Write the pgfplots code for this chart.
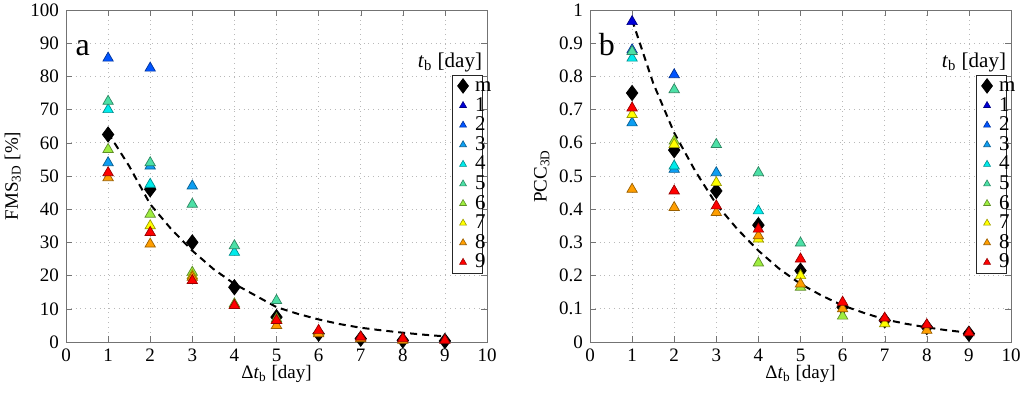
\documentclass[border=0pt]{standalone}
\usepackage{fontspec}
\setmainfont{Liberation Serif}
\usepackage{pgfplots}
\pgfplotsset{compat=1.18}
\definecolor{c1}{rgb}{0,0,0.85}
\definecolor{c2}{rgb}{0,0.33,1}
\definecolor{c3}{rgb}{0.05,0.62,0.95}
\definecolor{c4}{rgb}{0,0.92,0.92}
\definecolor{c5}{rgb}{0.3,0.88,0.65}
\definecolor{c6}{rgb}{0.62,0.93,0.25}
\definecolor{c7}{rgb}{1,1,0}
\definecolor{c8}{rgb}{1,0.62,0}
\definecolor{c9}{rgb}{1,0,0}
\pgfplotsset{
  base/.style={scale only axis, width=210.5pt, height=166pt,
    xmin=0, xmax=10, xtick={0,...,10},
    grid=major, grid style={dotted, gray!55, line width=0.4pt},
    axis line style={black!55}, tick style={black!55},
    tick align=inside, major tick length=3pt,
    ticklabel style={font=\fontsize{9.5}{10}\selectfont},
    /pgf/number format/assume math mode=true,
    label style={font=\fontsize{9.5}{10}\selectfont},
    xlabel={Δ\textit{t}\textsubscript{b} [day]},
    xlabel style={yshift=5pt},
    legend cell align=left,
    legend style={at={(0.99,0.805)}, anchor=north east, draw=black!85, fill=white,
      font=\fontsize{10.5}{10.5}\selectfont, inner xsep=0pt, inner ysep=0.8pt,
      /tikz/column sep=0pt,
      /tikz/every even column/.append style={column sep=0pt},
      /tikz/every odd column/.append style={column sep=0pt},
      nodes={inner xsep=0.5pt, inner ysep=0.8pt, text height=6.6pt, text depth=1pt}, row sep=0.6pt},
  },
  limg/.style={legend image code/.code={\draw[draw=none,fill=none] (0pt,-2pt) rectangle (11pt,2pt);\draw[##1] plot coordinates {(5.5pt,0pt)};}},
  tri/.style={forget plot, only marks, mark=triangle*, mark size=3pt, color=#1, mark options={fill=#1, draw=#1!60!black, line width=0.35pt}},
  ltri/.style={only marks, mark=triangle*, mark size=2pt, color=#1, mark options={fill=#1, draw=#1!60!black, line width=0.3pt}, limg},
  dia/.style={forget plot, only marks, mark=diamond*, mark size=3.8pt, black},
  fit/.style={forget plot, black, dashed, line width=1pt, dash pattern=on 3.5pt off 2.5pt},
}
\newcommand{\legent}[1]{\addlegendentry{#1\hspace*{-5pt}}}
\newcommand{\legendall}{%
  \addlegendimage{only marks, mark=diamond*, mark size=3.6pt, black, limg}\legent{m}
  \addlegendimage{ltri=c1}\legent{1}
  \addlegendimage{ltri=c2}\legent{2}
  \addlegendimage{ltri=c3}\legent{3}
  \addlegendimage{ltri=c4}\legent{4}
  \addlegendimage{ltri=c5}\legent{5}
  \addlegendimage{ltri=c6}\legent{6}
  \addlegendimage{ltri=c7}\legent{7}
  \addlegendimage{ltri=c8}\legent{8}
  \addlegendimage{ltri=c9}\legent{9}}
\begin{document}
\begin{tikzpicture}
\path[use as bounding box] (0,0) rectangle (512pt,196pt);
% ---------------- panel a
\begin{axis}[base, at={(33pt,25pt)}, anchor=south west,
  ymin=0, ymax=100, ytick={0,10,...,100},
  ylabel={FMS\textsubscript{3D} [\%]}, ylabel style={yshift=-2pt}]
\addplot[fit] coordinates {(1,63)(1.5,53)(2,41.5)(2.5,34)(3,27.5)(3.5,22)(4,17.5)(4.5,14)(5,10.5)(5.5,8.5)(6,6.8)(6.5,5.4)(7,4.3)(7.5,3.5)(8,2.8)(8.5,2.2)(9,1.7)};
\addplot[dia] coordinates {(1,62.5)(2,46)(3,30)(4,16.5)(5,7.5)(6,2.5)(7,1)(8,0.5)(9,0.3)};
\addplot[tri=c2] coordinates {(1,85.5)(2,82.5)};
\addplot[tri=c3] coordinates {(1,54)(2,53)(3,47)};
\addplot[tri=c4] coordinates {(1,70)(2,47.5)(4,27)};
\addplot[tri=c5] coordinates {(1,72.5)(2,54)(3,41.5)(4,29)(5,12.5)};
\addplot[tri=c6] coordinates {(1,58)(2,38.5)(3,21)(4,11.5)(5,7)};
\addplot[tri=c7] coordinates {(2,35)(3,20)(5,6.5)(6,3)};
\addplot[tri=c8] coordinates {(1,49.5)(2,29.5)(3,19.5)(4,11)(5,5)(6,2.5)(7,1)(8,0.5)};
\addplot[tri=c9] coordinates {(1,51)(2,33)(3,18.5)(4,11)(5,6.5)(6,3.5)(7,1.5)(8,1)(9,0.5)};
\legendall
\node[font=\fontsize{16}{16}\selectfont] at (axis cs:0.4,88.5) {a};
\node[font=\fontsize{10.5}{10.5}\selectfont] at (axis cs:9.12,84.3) {\textit{t}\textsubscript{b} [day]};
\end{axis}
% ---------------- panel b
\begin{axis}[base, at={(295pt,25pt)}, anchor=south west,
  ymin=0, ymax=1, ytick={0,0.1,...,1},
  ylabel={PCC\textsubscript{3D}}, ylabel style={yshift=-2pt}]
\addplot[fit] coordinates {(1,0.97)(1.5,0.78)(2,0.63)(2.5,0.515)(3,0.415)(3.5,0.34)(4,0.275)(4.5,0.22)(5,0.175)(5.5,0.14)(6,0.11)(6.5,0.088)(7,0.068)(7.5,0.055)(8,0.044)(8.5,0.035)(9,0.028)};
\addplot[dia] coordinates {(1,0.75)(2,0.578)(3,0.455)(4,0.352)(5,0.215)(6,0.105)(7,0.065)(8,0.045)(9,0.025)};
\addplot[tri=c1] coordinates {(1,0.965)};
\addplot[tri=c2] coordinates {(1,0.88)(2,0.805)};
\addplot[tri=c3] coordinates {(1,0.66)(2,0.52)(3,0.51)};
\addplot[tri=c4] coordinates {(1,0.855)(2,0.53)(4,0.395)};
\addplot[tri=c5] coordinates {(1,0.875)(2,0.76)(3,0.595)(4,0.51)(5,0.298)};
\addplot[tri=c6] coordinates {(2,0.605)(4,0.238)(5,0.165)(6,0.078)};
\addplot[tri=c7] coordinates {(1,0.685)(2,0.595)(3,0.48)(4,0.31)(5,0.2)(7,0.055)};
\addplot[tri=c8] coordinates {(1,0.46)(2,0.405)(3,0.39)(4,0.32)(5,0.175)(6,0.1)(8,0.035)};
\addplot[tri=c9] coordinates {(1,0.705)(2,0.455)(3,0.41)(4,0.34)(5,0.25)(6,0.12)(7,0.072)(8,0.052)(9,0.028)};
\legendall
\node[font=\fontsize{16}{16}\selectfont] at (axis cs:0.4,0.895) {b};
\node[font=\fontsize{10.5}{10.5}\selectfont] at (axis cs:9.12,0.843) {\textit{t}\textsubscript{b} [day]};
\end{axis}
\end{tikzpicture}
\end{document}
